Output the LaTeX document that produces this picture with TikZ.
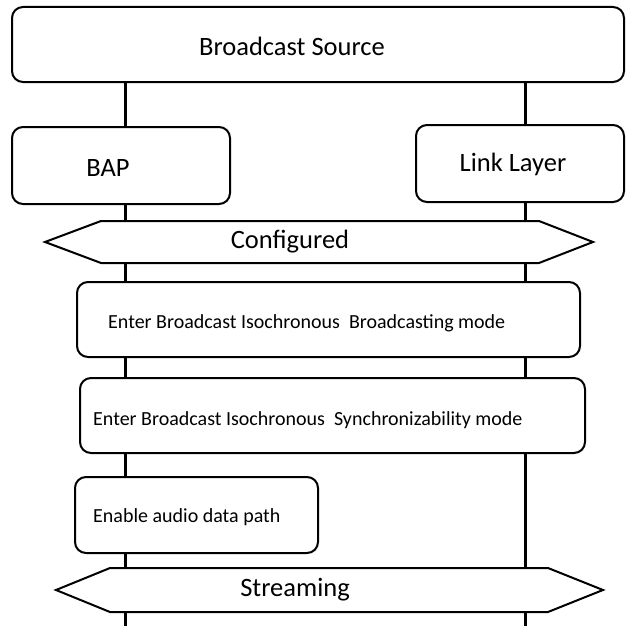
\documentclass[tikz,border=0pt]{standalone}
\usepackage{fontspec}
\setmainfont{Carlito}
\usetikzlibrary{backgrounds}
\begin{document}
\begin{tikzpicture}[x=1pt,y=-1pt,
  box/.style={draw=black,line width=2pt,fill=white,rounded corners=11pt,inner sep=0pt},
  lifeline/.style={draw=black,line width=3pt},
  state/.style={draw=black,line width=2pt,fill=white,line join=miter},
  big/.style={font=\fontsize{26.5}{30}\selectfont,inner sep=0pt},
  small/.style={font=\fontsize{20}{23}\selectfont,inner sep=0pt,anchor=west}]
\useasboundingbox (0,0) rectangle (626,626);
% boxes
\node[box,minimum width=612pt,minimum height=75pt] (bs) at (318,44.5) {};
\node[big] (bst) at (292,46) {Broadcast Source};
\node[box,minimum width=218pt,minimum height=77pt] (bap) at (121,165.5) {};
\node[big] (bapt) at (108,168) {BAP};
\node[box,minimum width=208pt,minimum height=77pt] (ll) at (520,163.5) {};
\node[big] (llt) at (513,164) {Link Layer};
% configured
\coordinate (c1) at (45,242);
\path[state] (c1) -- (101,221) -- (539,221) -- (593,242) -- (539,263) -- (101,263) -- cycle;
\node[big] (conf) at (290,242) {Configured};
\node[box,minimum width=503pt,minimum height=75pt] (b1) at (328.5,319.5) {};
\node[small] (b1t) at (108,323) {Enter Broadcast Isochronous\ \ Broadcasting mode};
\node[box,minimum width=505pt,minimum height=75pt] (b2) at (332.5,415.5) {};
\node[small] (b2t) at (93,420) {Enter Broadcast Isochronous\ \ Synchronizability mode};
\node[box,minimum width=243pt,minimum height=76pt] (b3) at (196.5,515) {};
\node[small] (b3t) at (93,517) {Enable audio data path};
% streaming
\path[state] (56,590) -- (110,568) -- (548,568) -- (603,590) -- (548,612) -- (110,612) -- cycle;
\node[big] (str) at (295,590) {Streaming};
% lifelines
\coordinate (endl) at (125,626);
\coordinate (endr) at (525,626);
\begin{scope}[on background layer]
\draw[lifeline] (bs.south -| endl) -- (endl);
\draw[lifeline] (bs.south -| endr) -- (endr);
\end{scope}
\end{tikzpicture}
\end{document}
